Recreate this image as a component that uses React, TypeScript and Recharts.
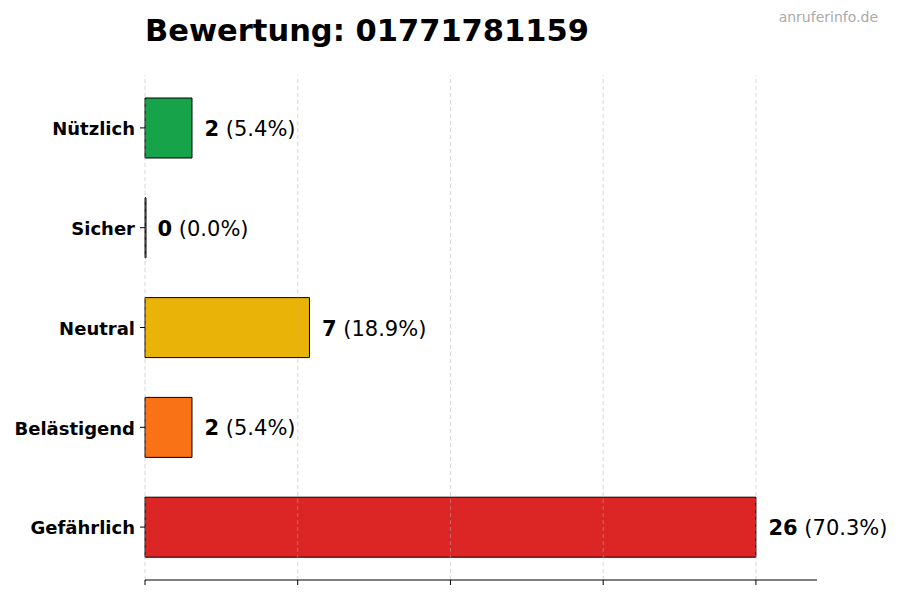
import { BarChart, Bar, XAxis, YAxis, Cell, LabelList, ReferenceLine } from 'recharts'

const categories = ['Nützlich', 'Sicher', 'Neutral', 'Belästigend', 'Gefährlich']
const counts = [2, 0, 7, 2, 26]
const percents = ['5.4', '0.0', '18.9', '5.4', '70.3']
const colors = ['#16a34a', '#6b7280', '#eab308', '#f97316', '#dc2626']
const xTicks = [0, 6.5, 13, 19.5, 26]

const FONT = '"DejaVu Sans", sans-serif'

const data = categories.map((name, i) => ({
  name,
  count: counts[i],
  pct: percents[i],
  color: colors[i],
}))

const ValueLabel = (props: any) => {
  const { x, y, width, height, index } = props
  const d = data[index]
  const w = d.count === 0 ? 0 : width
  return (
    <text
      x={x + w + 12.5}
      y={y + height / 2 + 1}
      dominantBaseline="central"
      fontFamily={FONT}
      fontSize={21}
      fill="#000"
    >
      <tspan fontWeight="bold">{d.count}</tspan>
      <tspan> ({d.pct}%)</tspan>
    </text>
  )
}

export default function App() {
  return (
    <div style={{ position: 'absolute', left: 0, top: 0, width: 900, height: 600, background: '#fff', fontFamily: FONT }}>
      <div style={{ position: 'absolute', left: 145, top: 13, fontSize: 30.5, fontWeight: 'bold', color: '#000' }}>
        Bewertung: 01771781159
      </div>
      <div style={{ position: 'absolute', right: 22, top: 9, fontSize: 14, color: '#aaa' }}>
        anruferinfo.de
      </div>
      <BarChart
        width={900}
        height={600}
        data={data}
        layout="vertical"
        margin={{ top: 75, right: 83, bottom: 0, left: 0 }}
        barCategoryGap={0}
      >
        <XAxis
          type="number"
          domain={[0, 28.6]}
          ticks={xTicks}
          height={20}
          tickSize={5}
          tick={() => <g />}
          axisLine={{ stroke: '#000' }}
          tickLine={{ stroke: '#000' }}
        />
        <YAxis
          type="category"
          dataKey="name"
          width={145}
          padding={{ top: 3, bottom: 3 }}
          tickSize={5}
          tickMargin={5}
          axisLine={false}
          tickLine={{ stroke: '#000' }}
          tick={{ fill: '#000', fontSize: 18, fontWeight: 'bold', fontFamily: FONT, dy: 1 }}
        />
        <Bar
          dataKey="count"
          barSize={60}
          minPointSize={1}
          stroke="#000"
          strokeWidth={1}
          isAnimationActive={false}
        >
          {data.map((d, i) => (
            <Cell key={i} fill={d.color} />
          ))}
          <LabelList dataKey="count" content={ValueLabel} />
        </Bar>
        {/* dashed vertical grid, drawn over the bars like the original */}
        {xTicks.map(t => (
          <ReferenceLine key={t} x={t} stroke="#b0b0b0" strokeOpacity={0.5} strokeDasharray="4 3" />
        ))}
      </BarChart>
    </div>
  )
}
